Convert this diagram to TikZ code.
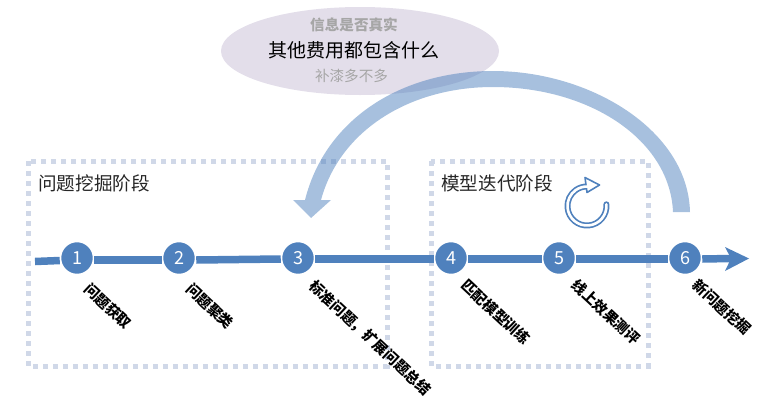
\documentclass[tikz,border=0pt]{standalone}
\usepackage{fontspec}
\setmainfont{Noto Sans CJK SC}
\usetikzlibrary{arrows.meta}
\definecolor{mainblue}{HTML}{4F81BD}
\definecolor{boxdash}{HTML}{D0D8E8}
\definecolor{bubble}{HTML}{E3DEEA}
\definecolor{greytext}{HTML}{A6A6A6}
\tikzset{
  phasebox/.style={draw=boxdash,line width=5pt,dash pattern=on 5pt off 5pt},
  stepdot/.style={circle,fill=mainblue,draw=white,line width=1.5pt,minimum size=33pt,inner sep=0pt,text=white,font=\fontsize{18}{18}\selectfont},
  mainline/.style={draw=mainblue,line width=7.5pt},
  steplabel/.style={rotate=-43,font=\fontsize{14.5}{15}\selectfont\bfseries,text=black,inner sep=0pt},
  phasetitle/.style={anchor=west,inner sep=0pt,font=\fontsize{18.6}{19}\selectfont,text=black!85},
  greyline/.style={text=greytext,inner sep=0pt,font=\fontsize{14.6}{15}\selectfont},
}
\begin{document}
\begin{tikzpicture}[x=1pt,y=-1pt]
\useasboundingbox (0,0) rectangle (757,407);
% bubble
\fill[bubble] (360,51) ellipse [x radius=139,y radius=44];
\node[greyline,font=\fontsize{14.6}{15}\selectfont\bfseries] (q1) at (354,25) {信息是否真实};
\node[inner sep=0pt,text=black,font=\fontsize{19}{20}\selectfont] (q2) at (353.5,50) {其他费用都包含什么};
\node[greyline] (q3) at (351.5,76) {补漆多不多};
% phase boxes
\draw[phasebox] (28,161) rectangle (387,366);
\draw[phasebox] (431,161) rectangle (648,366);
\node[phasetitle] (t1) at (38,183) {问题挖掘阶段};
\node[phasetitle] (t2) at (441,183) {模型迭代阶段};
% big return arrow
\fill[mainblue,opacity=.5] (690,212)
  .. controls (688,130) and (590,71) .. (493,71)
  .. controls (400,71) and (325,120) .. (305,200)
  -- (293,200) -- (311,218) -- (331,200) -- (321,200)
  .. controls (340,130) and (410,87) .. (493,87)
  .. controls (590,87) and (670,140) .. (673,212) -- cycle;
% timeline
\coordinate (start) at (35,261.5);
\coordinate (notch) at (731,258.5);
\coordinate (tip) at (749,258.5);
\coordinate (wingup) at (725,247);
\coordinate (wingdown) at (725,271);
\node[stepdot] (n1) at (77,258) {1};
\node[stepdot] (n2) at (179,258) {2};
\node[stepdot] (n3) at (298,258) {3};
\node[stepdot] (n4) at (451,258) {4};
\node[stepdot] (n5) at (559,258) {5};
\node[stepdot] (n6) at (685,258) {6};
\draw[mainline] (start) -- ([yshift=-2.5pt]n1.west);
\draw[mainline] ([yshift=-2pt]n1.east) -- ([yshift=-2pt]n2.west);
\draw[mainline] ([yshift=-2pt]n2.east) -- ([yshift=-1pt]n3.west);
\draw[mainline] ([yshift=-1pt]n3.east) -- ([yshift=-1pt]n4.west);
\draw[mainline] ([yshift=-1pt]n4.east) -- ([yshift=-1pt]n5.west);
\draw[mainline] ([yshift=-1pt]n5.east) -- ([yshift=-1pt]n6.west);
\draw[mainline] ([yshift=-1pt]n6.east) -- (notch);
\fill[mainblue] (tip) -- (wingup) -- (notch) -- (wingdown) -- cycle;
% labels
\node[steplabel] (l1) at (108,306) {问题获取};
\node[steplabel] (l2) at (210,306) {问题聚类};
\node[steplabel] (l3) at (370,338) {标准问题，扩展问题总结};
\node[steplabel] (l4) at (496,312) {匹配模型训练};
\node[steplabel] (l5) at (606,312) {线上效果测评};
\node[steplabel] (l6) at (722,307) {新问题挖掘};
% rotate icon
\draw[mainblue,line width=6pt,line cap=round] (606.4,204.3) arc[start angle=-5,end angle=270,radius=19.5];
\draw[mainblue,fill=white,line width=1.6pt,line join=round] (585,177.5) -- (599.5,185) -- (587,192.5) -- cycle;
\draw[white,line width=2.6pt,line cap=round] (606.4,204.3) arc[start angle=-5,end angle=272,radius=19.5];
\end{tikzpicture}
\end{document}
